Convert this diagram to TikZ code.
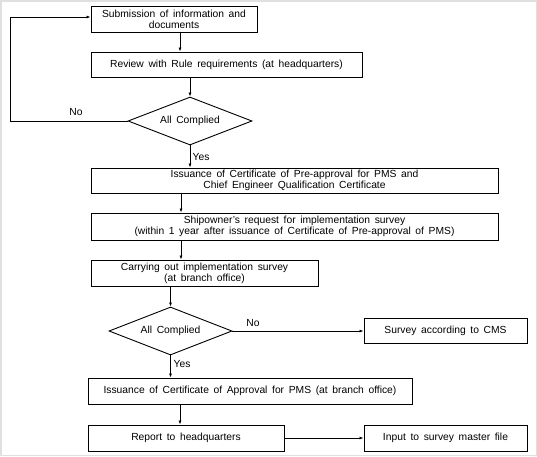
\documentclass[tikz,border=0pt]{standalone}
\usepackage{fontspec}
\setmainfont{Liberation Sans}
\usetikzlibrary{shapes.geometric,arrows.meta}
\newcommand{\diagfont}{\fontsize{10.3}{11}\selectfont\spaceskip=0.45em plus 0.1em minus 0.05em\relax}
\begin{document}
\begin{tikzpicture}[x=1pt,y=-1pt,
  every node/.style={font=\diagfont},
  box/.style={draw,line width=0.9pt,inner sep=0pt,align=center},
  dia/.style={draw,line width=0.9pt,shape=diamond,aspect=2.6,inner sep=0pt,minimum width=124pt,minimum height=48pt},
  arr/.style={line width=0.9pt,-{Latex[length=4pt,width=3pt]}},
  lbl/.style={inner sep=0pt}]
\useasboundingbox (0,0) rectangle (537,456);
\draw[black!12,line width=1.5pt] (0.75,0.75) rectangle (536.25,455.25);
% boxes
\node[box,minimum width=166pt,minimum height=26pt] (b1) at (174,19) {Submission of information and\\documents};
\node[box,minimum width=271pt,minimum height=25pt] (b2) at (226.5,64.5) {Review with Rule requirements (at headquarters)};
\node[dia] (d1) at (190,121) {All Complied};
\node[box,minimum width=407pt,minimum height=25pt] (b3) at (294.5,180.5) {Issuance of Certificate of Pre-approval for PMS and\\Chief Engineer Qualification Certificate};
\node[box,minimum width=407pt,minimum height=27pt] (b4) at (294.5,226.5) {Shipowner's request for implementation survey\\(within 1 year after issuance of Certificate of Pre-approval of PMS)};
\node[box,minimum width=227pt,minimum height=26pt] (b5) at (204.5,273) {Carrying out implementation survey\\(at branch office)};
\node[dia,minimum width=123pt] (d2) at (170.5,331) {All Complied};
\node[box,minimum width=163pt,minimum height=25pt] (cms) at (445.5,331) {Survey according to CMS};
\node[box,minimum width=324pt,minimum height=26pt] (b6) at (250,391) {Issuance of Certificate of Approval for PMS (at branch office)};
\node[box,minimum width=196pt,minimum height=26pt] (b7) at (186,438) {Report to headquarters};
\node[box,minimum width=163pt,minimum height=26pt] (b8) at (445.5,438) {Input to survey master file};
% helper coordinates
\coordinate (x180) at (180,0);
\coordinate (x181) at (181,0);
\coordinate (loopx) at (10,0);
\coordinate (loopy) at (0,17);
% connectors
\draw[arr] (b1.south -| x180) -- (b2.north -| x180);
\draw[arr] (b2.south -| d1.north) -- (d1.north);
\draw[arr] (d1.west) -- (d1.west -| loopx) -- (loopx |- loopy) -- (b1.west |- loopy);
\draw[arr] (d1.south) -- (b3.north -| d1.south);
\draw[arr] (b3.south -| x181) -- (b4.north -| x181);
\draw[arr] (b4.south -| x181) -- (b5.north -| x181);
\draw[arr] (b5.south -| d2.north) -- (d2.north);
\draw[arr] (d2.east) -- (cms.west |- d2.east);
\draw[arr] (d2.south) -- (b6.north -| d2.south);
\draw[arr] (b6.south -| x180) -- (b7.north -| x180);
\draw[arr] (b7.east) -- (b8.west);
% labels
\node[lbl] (no1) at (76,112) {No};
\node[lbl] (yes1) at (201,157) {Yes};
\node[lbl] (no2) at (253,323) {No};
\node[lbl] (yes2) at (182,364) {Yes};
\end{tikzpicture}
\end{document}
